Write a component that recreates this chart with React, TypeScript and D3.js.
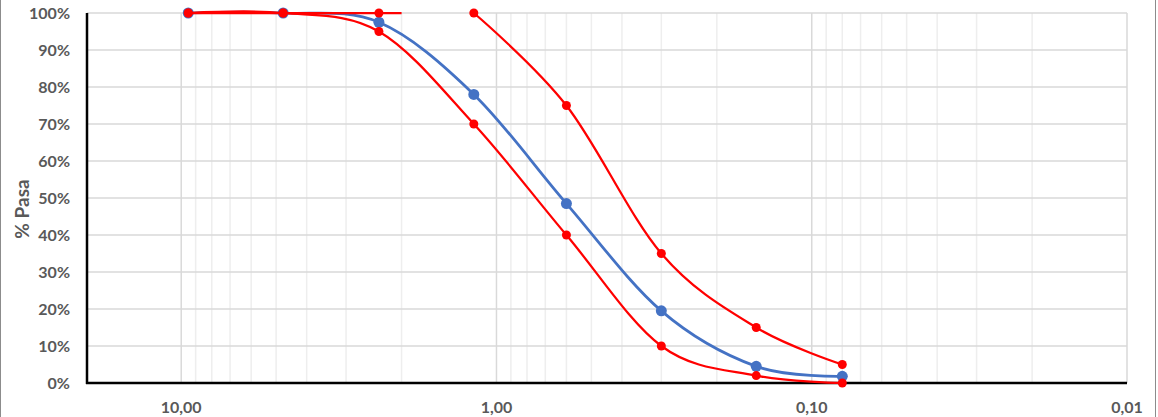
import React, { useEffect, useRef } from "react";
import * as d3 from "d3";

// sieve openings (mm) and % passing
const sieves = [9.5, 4.75, 2.36, 1.18, 0.6, 0.3, 0.15, 0.08];
const muestra = [100, 100, 97.5, 78, 48.5, 19.5, 4.5, 1.8];
const limiteInferior = [100, 100, 95, 70, 40, 10, 2, 0];
// upper limit is drawn in two pieces in the original
const superiorA_x = [9.5, 4.75, 2.36, 2.0];
const superiorA_y = [100, 100, 100, 100];
const superiorB_x = [1.18, 0.6, 0.3, 0.15, 0.08];
const superiorB_y = [100, 75, 35, 15, 5];

const yTicks = [0, 10, 20, 30, 40, 50, 60, 70, 80, 90, 100];
const xMajor = [10, 1, 0.1, 0.01];
const xLabels = ["10,00", "1,00", "0,10", "0,01"];

const W = 1158;
const H = 417;
const m = { left: 87, right: 1127, top: 13, bottom: 383 };

export default function App() {
  const ref = useRef<SVGSVGElement | null>(null);

  useEffect(() => {
    const svg = d3.select(ref.current);
    svg.selectAll("*").remove();

    const x = d3.scaleLog().domain([19.9, 0.01]).range([m.left, m.right]);
    const y = d3.scaleLinear().domain([0, 100]).range([m.bottom, m.top]);
    const font = "Lato, 'Open Sans', sans-serif";

    // chart border
    svg.append("line").attr("x1", 0.5).attr("x2", 0.5).attr("y1", 0).attr("y2", H)
      .attr("stroke", "#8c8c8c");
    svg.append("line").attr("x1", 1155.5).attr("x2", 1155.5).attr("y1", 0).attr("y2", H)
      .attr("stroke", "#8c8c8c");

    // minor grid
    const minor: number[] = [];
    [0.01, 0.1, 1].forEach((d) => {
      for (let k = 2; k <= 9; k++) minor.push(d * k);
    });
    svg.append("g").selectAll("line").data(minor).join("line")
      .attr("x1", (d) => x(d)).attr("x2", (d) => x(d))
      .attr("y1", m.top).attr("y2", m.bottom)
      .attr("stroke", "#eeeeee").attr("stroke-width", 1.5);

    // major vertical grid
    svg.append("g").selectAll("line").data(xMajor).join("line")
      .attr("x1", (d) => x(d)).attr("x2", (d) => x(d))
      .attr("y1", m.top).attr("y2", m.bottom)
      .attr("stroke", "#d9d9d9").attr("stroke-width", 1.5);

    // horizontal grid
    svg.append("g").selectAll("line").data(yTicks).join("line")
      .attr("x1", m.left).attr("x2", m.right)
      .attr("y1", (d) => y(d)).attr("y2", (d) => y(d))
      .attr("stroke", "#d9d9d9").attr("stroke-width", 1.5);

    // axes
    svg.append("line").attr("x1", m.left).attr("x2", m.left)
      .attr("y1", m.top).attr("y2", m.bottom + 1)
      .attr("stroke", "#000").attr("stroke-width", 2.5);
    svg.append("line").attr("x1", m.left - 1).attr("x2", m.right)
      .attr("y1", m.bottom).attr("y2", m.bottom)
      .attr("stroke", "#000").attr("stroke-width", 2.5);

    // tick labels
    svg.append("g").selectAll("text").data(yTicks).join("text")
      .attr("x", 70).attr("y", (d) => y(d) + 5.5)
      .attr("text-anchor", "end")
      .attr("font-family", font).attr("font-weight", "bold")
      .attr("font-size", 16).attr("fill", "#595959")
      .text((d) => `${d}%`);

    svg.append("g").selectAll("text").data(xMajor).join("text")
      .attr("x", (d) => x(d)).attr("y", 413)
      .attr("text-anchor", "middle")
      .attr("font-family", font).attr("font-weight", "bold")
      .attr("font-size", 16).attr("fill", "#595959")
      .text((d, i) => xLabels[i]);

    svg.append("text")
      .attr("transform", `translate(29,209) rotate(-90)`)
      .attr("text-anchor", "middle")
      .attr("font-family", font).attr("font-weight", "bold")
      .attr("font-size", 19).attr("fill", "#595959")
      .text("% Pasa");

    const line = d3.line<[number, number]>()
      .x((d) => x(d[0])).y((d) => y(d[1]))
      .curve(d3.curveCardinal.tension(0));

    const drawSeries = (
      xs: number[], ys: number[], color: string, w: number, r: number, markers: number
    ) => {
      const pts = xs.map((v, i) => [v, ys[i]] as [number, number]);
      svg.append("path").attr("d", line(pts) || "")
        .attr("fill", "none").attr("stroke", color).attr("stroke-width", w);
      svg.append("g").selectAll("circle").data(pts.slice(0, markers)).join("circle")
        .attr("cx", (d) => x(d[0])).attr("cy", (d) => y(d[1]))
        .attr("r", r).attr("fill", color);
    };

    drawSeries(sieves, muestra, "#4472C4", 2.75, 5.5, sieves.length);
    drawSeries(sieves, limiteInferior, "#FF0000", 2.25, 4.5, sieves.length);
    drawSeries(superiorA_x, superiorA_y, "#FF0000", 2.25, 4.5, 3);
    drawSeries(superiorB_x, superiorB_y, "#FF0000", 2.25, 4.5, superiorB_x.length);
  }, []);

  return (
    <div style={{ position: "absolute", left: 0, top: 0, background: "#fff" }}>
      <svg ref={ref} width={W} height={H} style={{ display: "block" }} />
    </div>
  );
}
